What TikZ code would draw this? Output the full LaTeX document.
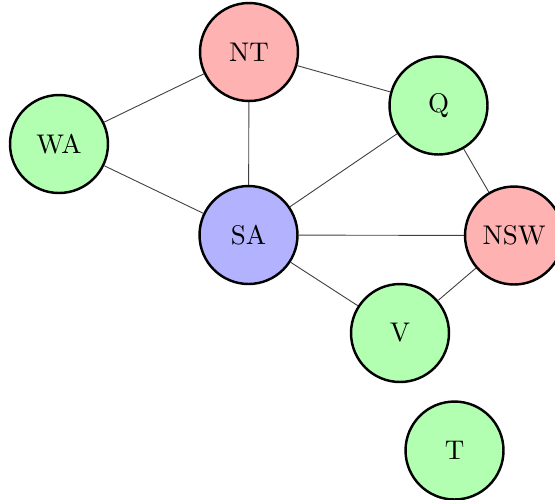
\documentclass[tikz,border=0pt]{standalone}
\begin{document}
\begin{tikzpicture}[x=0.3889pt,y=-0.3889pt,
  region/.style={circle,draw=black,line width=0.95pt,minimum size=38.1pt,inner sep=0pt,font=\fontsize{10.5}{12}\selectfont},
  redr/.style={region,fill=red!30},
  greenr/.style={region,fill=green!30},
  bluer/.style={region,fill=blue!30},
  link/.style={black!75,line width=0.35pt}]
\useasboundingbox (0,0) rectangle (555,499);
\node[greenr] (WA) at (59,144) {WA};
\node[redr] (NT) at (249,52) {NT};
\node[greenr] (Q) at (438.5,105.5) {Q};
\node[bluer] (SA) at (248.5,235) {SA};
\node[redr] (NSW) at (514,235.5) {NSW};
\node[greenr] (V) at (400,333) {V};
\node[greenr] (T) at (454.5,450.5) {T};
\draw[link] (WA) -- (NT);
\draw[link] (WA) -- (SA);
\draw[link] (NT) -- (SA);
\draw[link] (NT) -- (Q);
\draw[link] (Q) -- (SA);
\draw[link] (Q) -- (NSW);
\draw[link] (SA) -- (NSW);
\draw[link] (SA) -- (V);
\draw[link] (V) -- (NSW);
\end{tikzpicture}
\end{document}
